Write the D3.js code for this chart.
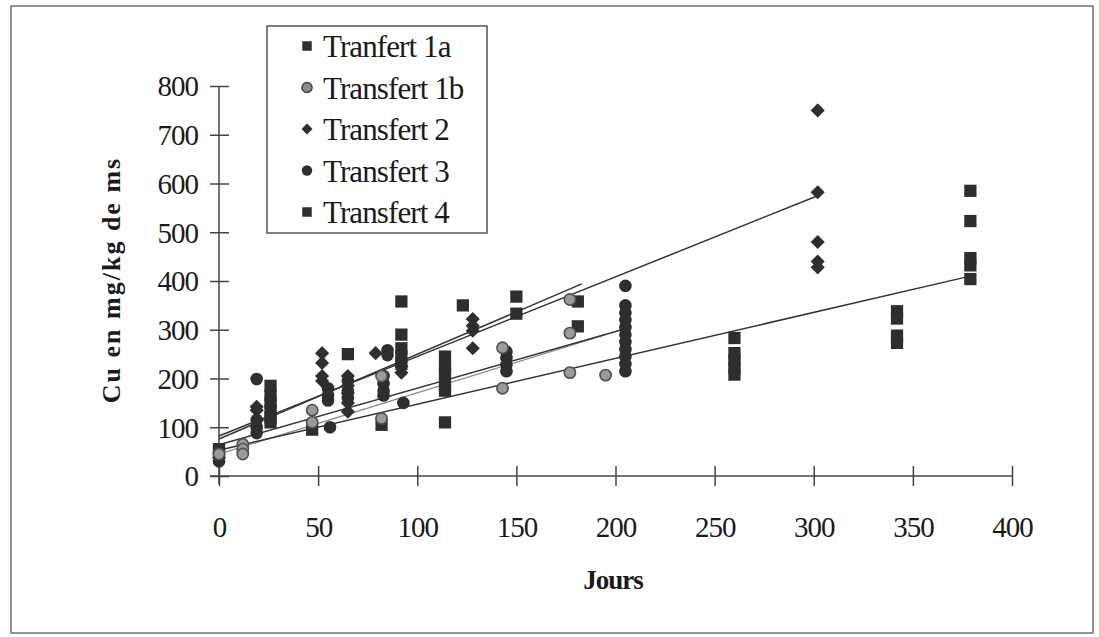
<!DOCTYPE html>
<html>
<head>
<meta charset="utf-8">
<script src="https://cdn.jsdelivr.net/npm/d3@7"></script>
<style>
  html, body { margin: 0; padding: 0; background: #fff; }
  svg { display: block; }
  text { font-family: "Liberation Serif", "Times New Roman", Times, "DejaVu Serif", serif; fill: #1a1a1a; }
</style>
</head>
<body>
<svg id="chart" width="1099" height="637"></svg>
<script>
// ---------- data ----------
const seriesNames = ["Tranfert 1a", "Transfert 1b", "Transfert 2", "Transfert 3", "Transfert 4"];
const xTicks = [0, 50, 100, 150, 200, 250, 300, 350, 400];
const yTicks = [0, 100, 200, 300, 400, 500, 600, 700, 800];

// [jours, Cu mg/kg ms]
const t1a = [[0,50],[26,185],[26,165],[26,150],[26,135],[26,120],[26,110],[65,250],[92,358],[92,290],[92,262],[92,245],[92,230],[123,350],[150,368],[150,333],[181,358],[181,307]];
const t1b = [[0,45],[12,65],[12,55],[12,45],[47,135],[47,110],[82,205],[82,118],[143,263],[143,180],[177,362],[177,293],[177,212],[195,207]];
const t2  = [[0,38],[19,142],[19,135],[52,252],[52,232],[52,205],[52,195],[65,205],[65,185],[65,170],[65,150],[65,132],[79,252],[92,225],[92,212],[128,322],[128,308],[128,298],[128,262],[302,750],[302,582],[302,480],[302,440],[302,428]];
const t3  = [[0,30],[19,199],[19,115],[19,100],[19,88],[55,180],[55,165],[55,155],[56,100],[65,195],[65,175],[65,160],[85,258],[85,248],[83,205],[83,190],[83,175],[83,165],[93,150],[145,255],[145,242],[145,228],[145,215],[205,390],[205,350],[205,335],[205,320],[205,305],[205,290],[205,275],[205,260],[205,245],[205,230],[205,215]];
const t4  = [[0,55],[47,95],[82,105],[114,245],[114,225],[114,210],[114,190],[114,175],[114,110],[260,283],[260,252],[260,237],[260,222],[260,208],[342,338],[342,323],[342,288],[342,273],[379,585],[379,523],[379,447],[379,432],[379,404]];

// linear trend lines: [x0, y0, x1, y1]
const trend1a = [0, 76, 183, 394];
const trend1b = [0, 45, 195, 290];
const trend2  = [0, 82, 302, 575];
const trend3  = [0, 64, 205, 302];
const trend4  = [0, 53, 380, 411];

// ---------- drawing ----------
const FONT = '"Liberation Serif", "Times New Roman", Times, "DejaVu Serif", serif';
const svg = d3.select("#chart");
const x = d3.scaleLinear().domain([0, 400]).range([219, 1012]);
const y = d3.scaleLinear().domain([0, 800]).range([476, 86]);

// outer frame
svg.append("rect").attr("x", 11).attr("y", 6).attr("width", 1082).attr("height", 627)
  .attr("fill", "none").attr("stroke", "#7a7a7a").attr("stroke-width", 1.6);

// axes
const axisColor = "#444";
const yAxis = d3.axisLeft(y).tickValues(yTicks).tickSize(9).tickSizeOuter(0).tickPadding(12);
const xAxis = d3.axisBottom(x).tickValues(xTicks).tickSize(10).tickSizeOuter(0).tickPadding(30);

const gy = svg.append("g").attr("transform", `translate(${x(0)},0)`).call(yAxis);
const gx = svg.append("g").attr("transform", `translate(0,${y(0)})`).call(xAxis);

[gx, gy].forEach(g => {
  g.attr("font-family", null).attr("font-size", null);
  g.select(".domain").attr("stroke", axisColor).attr("stroke-width", 1.5);
  g.selectAll(".tick line").attr("stroke", axisColor).attr("stroke-width", 1.5);
  g.selectAll(".tick text")
    .attr("font-family", FONT).style("font-family", FONT)
    .style("font-size", "29px").style("letter-spacing", "-1px").attr("fill", "#1a1a1a");
});
// crossing ticks
gy.selectAll(".tick line").attr("x1", 10);
gx.selectAll(".tick line").attr("y1", -10);
gy.selectAll(".tick text").attr("dy", "0.34em");
// extend axis lines slightly past the origin
gy.select(".domain").attr("d", `M0,${y(0) + 8}V${y(800)}`);
gx.select(".domain").attr("d", `M${x(0) - 9},0H${x(400)}`);

// trend lines
const trends = [
  {t: trend1a, c: "#333", w: 1.5},
  {t: trend1b, c: "#8a8a8a", w: 1.2},
  {t: trend2,  c: "#333", w: 1.5},
  {t: trend3,  c: "#333", w: 1.5},
  {t: trend4,  c: "#333", w: 1.5}
];
svg.append("g").selectAll("line").data(trends).join("line")
  .attr("x1", d => x(d.t[0])).attr("y1", d => y(d.t[1]))
  .attr("x2", d => x(d.t[2])).attr("y2", d => y(d.t[3]))
  .attr("stroke", d => d.c).attr("stroke-width", d => d.w);

// markers
const dark = "#2e2e2e";
const symSquare = d3.symbol().type(d3.symbolSquare).size(150);
const symDiamond = d3.symbol().type(d3.symbolSquare).size(100);
const symCircle = d3.symbol().type(d3.symbolCircle).size(125);
const symCircleB = d3.symbol().type(d3.symbolCircle).size(100);

function drawSeries(data, sym, fill, stroke, sw, rot) {
  svg.append("g").selectAll("path").data(data).join("path")
    .attr("transform", d => `translate(${x(d[0])},${y(d[1])}) rotate(${rot || 0})`)
    .attr("d", sym)
    .attr("fill", fill).attr("stroke", stroke).attr("stroke-width", sw);
}
drawSeries(t4, symSquare, dark, "none", 0);
drawSeries(t1a, symSquare, dark, "none", 0);
drawSeries(t3, symCircle, dark, "none", 0);
drawSeries(t2, symDiamond, dark, "none", 0, 45);
drawSeries(t1b, symCircleB, "#9a9a9a", "#505050", 1.6);

// axis titles
svg.append("text").attr("x", 613).attr("y", 589).attr("text-anchor", "middle")
  .style("font-family", FONT)
  .style("font-size", "27px").style("font-weight", "bold").style("letter-spacing", "-1px")
  .text("Jours");
svg.append("text").attr("transform", "translate(120,280) rotate(-90)").attr("text-anchor", "middle")
  .style("font-family", FONT)
  .style("font-size", "26px").style("font-weight", "bold").style("letter-spacing", "2px")
  .text("Cu en mg/kg de ms");

// legend
const legend = svg.append("g");
legend.append("rect").attr("x", 267).attr("y", 26).attr("width", 220).attr("height", 207)
  .attr("fill", "#fff").attr("stroke", "#555").attr("stroke-width", 1.5);
const legSyms = [
  {s: d3.symbol().type(d3.symbolSquare).size(90), f: dark, st: "none", sw: 0, r: 0},
  {s: d3.symbol().type(d3.symbolCircle).size(80), f: "#8a8a8a", st: "#404040", sw: 1.5, r: 0},
  {s: d3.symbol().type(d3.symbolSquare).size(60), f: dark, st: "none", sw: 0, r: 45},
  {s: d3.symbol().type(d3.symbolCircle).size(85), f: dark, st: "none", sw: 0, r: 0},
  {s: d3.symbol().type(d3.symbolSquare).size(90), f: dark, st: "none", sw: 0, r: 0}
];
const rowY = i => 46 + i * 41.5;
legend.selectAll("path").data(seriesNames).join("path")
  .attr("transform", (d, i) => `translate(307,${rowY(i)}) rotate(${legSyms[i].r})`)
  .attr("d", (d, i) => legSyms[i].s())
  .attr("fill", (d, i) => legSyms[i].f).attr("stroke", (d, i) => legSyms[i].st)
  .attr("stroke-width", (d, i) => legSyms[i].sw);
legend.selectAll("text").data(seriesNames).join("text")
  .attr("x", 323).attr("y", (d, i) => rowY(i) + 11)
  .style("font-family", FONT)
  .style("font-size", "31px").style("letter-spacing", "-0.9px")
  .text(d => d);
</script>
</body>
</html>
